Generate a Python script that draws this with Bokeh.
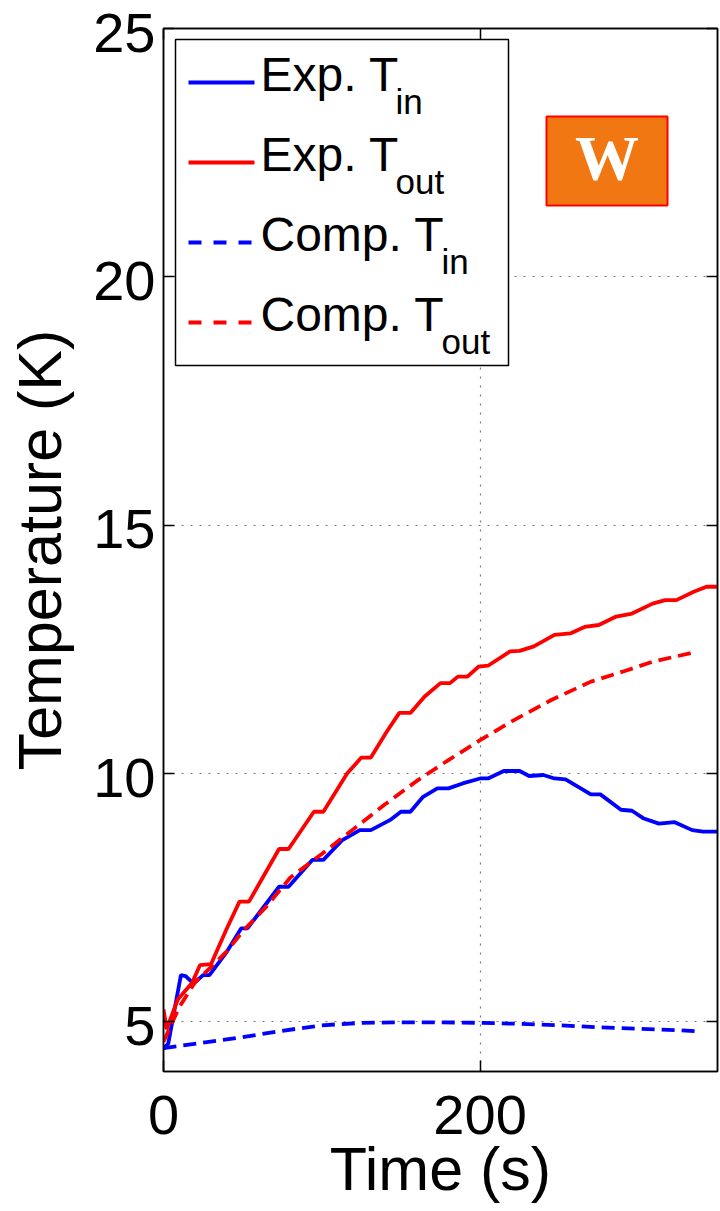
from bokeh.plotting import figure
from bokeh.models import (Range1d, FixedTicker, LinearAxis, BoxAnnotation, Label, Arrow)
from bokeh.embed import file_html
from bokeh.resources import INLINE

# Experimental inlet temperature (K) vs time (s)
exp_in_t = [0, 3, 11, 14, 19, 25, 29, 40, 49, 53, 73, 79, 94, 101, 113, 124, 131,
            143, 150, 156, 164, 173, 180, 189, 200, 205, 215, 225, 231, 240, 247,
            254, 270, 276, 289, 296, 303, 313, 323, 334, 341, 350]
exp_in_T = [4.46, 4.56, 5.94, 5.92, 5.77, 5.94, 5.94, 6.41, 6.88, 6.88, 7.72, 7.72,
            8.26, 8.26, 8.66, 8.86, 8.86, 9.06, 9.23, 9.23, 9.53, 9.70, 9.70, 9.80,
            9.90, 9.90, 10.05, 10.05, 9.95, 9.97, 9.90, 9.88, 9.58, 9.58, 9.27, 9.25,
            9.10, 8.99, 9.02, 8.86, 8.83, 8.83]

# Experimental outlet temperature
exp_out_t = [0, 2, 9, 18, 23, 30, 40, 48, 54, 73, 79, 95, 101, 116, 125, 131, 141,
             149, 156, 165, 175, 181, 186, 192, 199, 205, 219, 225, 234, 247, 257,
             266, 275, 286, 296, 309, 317, 324, 335, 343, 350]
exp_out_T = [5.25, 4.85, 5.45, 5.78, 6.14, 6.16, 6.88, 7.42, 7.42, 8.48, 8.48, 9.23,
             9.23, 10.0, 10.32, 10.32, 10.84, 11.22, 11.22, 11.55, 11.82, 11.82,
             11.95, 11.95, 12.15, 12.17, 12.46, 12.47, 12.56, 12.79, 12.82, 12.95,
             12.99, 13.16, 13.22, 13.42, 13.49, 13.49, 13.66, 13.76, 13.76]

# Computed inlet temperature
comp_in_t = [0, 25, 50, 75, 100, 125, 150, 175, 200, 225, 250, 275, 300, 325, 337]
comp_in_T = [4.47, 4.58, 4.69, 4.82, 4.93, 4.98, 4.99, 4.99, 4.98, 4.96, 4.93, 4.89,
             4.86, 4.83, 4.81]

# Computed outlet temperature
comp_out_t = [0, 10, 20, 30, 40, 50, 65, 80, 100, 120, 140, 160, 180, 200, 220, 245,
              270, 290, 310, 337]
comp_out_T = [4.6, 5.3, 5.8, 6.1, 6.42, 6.82, 7.32, 7.9, 8.38, 8.88, 9.38, 9.85,
              10.27, 10.67, 11.05, 11.48, 11.85, 12.05, 12.26, 12.45]

x_ticks = [0, 200]
y_ticks = [5, 10, 15, 20, 25]
series_labels = ["Exp. T", "Exp. T", "Comp. T", "Comp. T"]
series_subs = ["in", "out", "in", "out"]

W, H = 720, 1211
LEFT, RIGHT, TOP, BOTTOM = 163, 3, 28, 140
X0, X1 = 0, 350
Y0, Y1 = 4, 25
FW = W - LEFT - RIGHT
FH = H - TOP - BOTTOM


def px_x(px):
    """Canvas pixel column -> data x (for annotation placement)."""
    return X0 + (px - LEFT) * (X1 - X0) / FW


def px_y(py):
    """Canvas pixel row -> data y (for annotation placement)."""
    return Y1 - (py - TOP) * (Y1 - Y0) / FH


FONT = "Liberation Sans"
BLUE = "#0000FF"
RED = "#FF0000"
LW = 3.8
CURVE_DASH = "13 7"

# y tick numbers sit a few pixels below their tick marks
LABEL_DROP = 4 * (Y1 - Y0) / FH

p = figure(width=W, height=H, x_range=Range1d(X0, X1), y_range=Range1d(Y0, Y1),
           extra_y_ranges={"ylab": Range1d(Y0 + LABEL_DROP, Y1 + LABEL_DROP)},
           output_backend="svg", toolbar_location=None,
           min_border_left=LEFT, min_border_right=RIGHT,
           min_border_top=TOP, min_border_bottom=BOTTOM,
           background_fill_color="white", border_fill_color="white")
p.outline_line_color = "black"
p.outline_line_width = 1.5


def tick_style(ax):
    ax.major_tick_in = 11
    ax.major_tick_out = 0
    ax.minor_tick_in = 0
    ax.minor_tick_out = 0
    ax.axis_line_color = "black"
    ax.axis_line_width = 1.5
    ax.major_tick_line_color = "black"
    ax.major_tick_line_width = 1.5


def text_style(ax):
    ax.major_label_text_font = FONT
    ax.major_label_text_font_size = "56px"
    ax.major_label_text_color = "black"
    ax.axis_label_text_font = FONT
    ax.axis_label_text_font_size = "61px"
    ax.axis_label_text_font_style = "normal"
    ax.axis_label_text_color = "black"


# x axis: ticks, numbers and title
xax = p.xaxis[0]
tick_style(xax)
text_style(xax)
xax.ticker = FixedTicker(ticks=x_ticks)
xax.axis_label = "Time (s)"
xax.major_label_standoff = 24
xax.axis_label_standoff = -2

# y axis: tick marks only
yax = p.yaxis[0]
tick_style(yax)
yax.ticker = FixedTicker(ticks=y_ticks)
yax.major_label_overrides = {t: "" for t in y_ticks}
yax.major_label_text_font_size = "1px"
yax.major_label_standoff = 0

# y numbers and title
ylab = LinearAxis(y_range_name="ylab", ticker=FixedTicker(ticks=y_ticks),
                  axis_label="Temperature (K)", axis_line_color=None,
                  major_tick_line_color=None, minor_tick_line_color=None,
                  major_tick_in=0, major_tick_out=0, minor_tick_in=0, minor_tick_out=0,
                  major_label_standoff=8, axis_label_standoff=16)
text_style(ylab)
p.add_layout(ylab, "left")

# mirrored tick marks on the top and right edges of the box
for loc, ticks in (("above", x_ticks), ("right", y_ticks)):
    mirror = LinearAxis(ticker=FixedTicker(ticks=ticks),
                        major_label_overrides={t: "" for t in ticks},
                        major_label_standoff=0, major_label_text_font_size="1px")
    tick_style(mirror)
    p.add_layout(mirror, loc)

p.xgrid.ticker = FixedTicker(ticks=x_ticks)
p.ygrid.ticker = FixedTicker(ticks=y_ticks)
p.grid.grid_line_color = "#7a7a7a"
p.grid.grid_line_width = 1.2
p.grid.grid_line_dash = "2 7"

p.line(exp_in_t, exp_in_T, line_color=BLUE, line_width=LW)
p.line(exp_out_t, exp_out_T, line_color=RED, line_width=LW)
p.line(comp_in_t, comp_in_T, line_color=BLUE, line_width=LW, line_dash=CURVE_DASH)
p.line(comp_out_t, comp_out_T, line_color=RED, line_width=LW, line_dash=CURVE_DASH)

# legend box with line keys, names and subscripts
p.add_layout(BoxAnnotation(left=px_x(175), right=px_x(508), top=px_y(39),
                           bottom=px_y(365), fill_color="white", fill_alpha=1.0,
                           line_color="black", line_width=1.5, line_alpha=1.0))
key_colors = [BLUE, RED, BLUE, RED]
key_dashes = ["solid", "solid", "13 12", "13 12"]
sub_x = [395, 395, 441, 441]
for i, (lab, sub) in enumerate(zip(series_labels, series_subs)):
    row = 80 * i
    p.add_layout(Arrow(end=None, x_start=px_x(188), x_end=px_x(254),
                       y_start=px_y(82 + row), y_end=px_y(82 + row),
                       line_color=key_colors[i], line_width=LW,
                       line_dash=key_dashes[i]))
    p.add_layout(Label(x=px_x(260), y=px_y(73.5 + row), text=lab, text_font=FONT,
                       text_font_size="48px", text_color="black",
                       text_align="left", text_baseline="middle"))
    p.add_layout(Label(x=px_x(sub_x[i]), y=px_y(101 + row), text=sub,
                       text_font=FONT, text_font_size="35px", text_color="black",
                       text_align="left", text_baseline="middle"))

# "W" badge
p.add_layout(BoxAnnotation(left=px_x(546), right=px_x(667), top=px_y(116),
                           bottom=px_y(205), fill_color="#F07711", fill_alpha=1.0,
                           line_color=RED, line_width=2, line_alpha=1.0))
p.add_layout(Label(x=px_x(606.5), y=px_y(157.5), text="W", text_font="Liberation Serif",
                   text_font_style="bold", text_font_size="64px", text_color="white",
                   text_align="center", text_baseline="middle"))

open("out.html", "w").write(file_html(p, INLINE))
